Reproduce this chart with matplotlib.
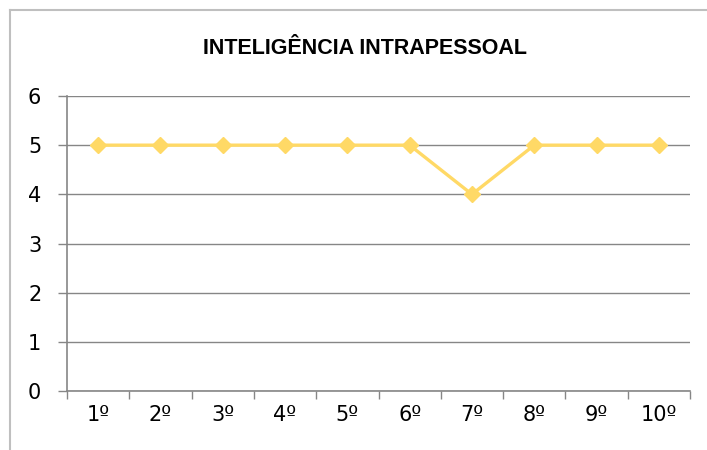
import matplotlib
matplotlib.use("Agg")
import matplotlib.pyplot as plt
from matplotlib.lines import Line2D
from matplotlib.ticker import FixedLocator, NullFormatter

title = "INTELIGÊNCIA INTRAPESSOAL"
categories = ["1º", "2º", "3º", "4º", "5º", "6º", "7º", "8º", "9º", "10º"]
values = [5, 5, 5, 5, 5, 5, 4, 5, 5, 5]
yticks = [0, 1, 2, 3, 4, 5, 6]

W, H = 707, 450
fig = plt.figure(figsize=(W / 100, H / 100), dpi=100)
fig.patch.set_facecolor("white")

left, right, top, bottom = 67, 690, 96, 391
ax = fig.add_axes([left / W, 1 - bottom / H, (right - left) / W, (bottom - top) / H])

font = "DejaVu Sans"
grey = "#868686"

x = list(range(1, len(categories) + 1))
ax.plot(x, values, color="#FFD966", lw=2.4, marker="D", markersize=8,
        markerfacecolor="#FFD966", markeredgecolor="#FFD966", zorder=3, clip_on=False)

ax.set_xlim(0.5, len(categories) + 0.5)
ax.set_ylim(0, 6)
ax.set_yticks(yticks)
ax.set_yticklabels([str(v) for v in yticks], fontsize=15, family=font)
ax.yaxis.grid(True, color=grey, lw=1)
ax.set_axisbelow(True)

ax.set_xticks(x)
ax.set_xticklabels(categories, fontsize=15, family=font)
ax.xaxis.set_minor_locator(FixedLocator([i + 0.5 for i in range(0, len(categories) + 1)]))
ax.xaxis.set_minor_formatter(NullFormatter())
ax.tick_params(axis="x", which="major", length=0, pad=10)
ax.tick_params(axis="x", which="minor", length=6, color=grey, width=1)
ax.tick_params(axis="y", length=6.5, color=grey, width=1, pad=12)

for s in ["top", "right"]:
    ax.spines[s].set_visible(False)
for s in ["left", "bottom"]:
    ax.spines[s].set_color(grey)
    ax.spines[s].set_linewidth(1.2)

fig.text(365 / W, 1 - 48 / H, title, ha="center", va="center",
         fontsize=15.5, fontweight="bold", family="Liberation Sans")

# chart border
bc = "#BFBFBF"
fig.add_artist(Line2D([10 / W, 1], [1 - 10 / H, 1 - 10 / H], color=bc, lw=1.5, transform=fig.transFigure))
fig.add_artist(Line2D([10 / W, 10 / W], [0, 1 - 10 / H], color=bc, lw=1.5, transform=fig.transFigure))

fig.savefig("out.png", dpi=100, facecolor="white")
